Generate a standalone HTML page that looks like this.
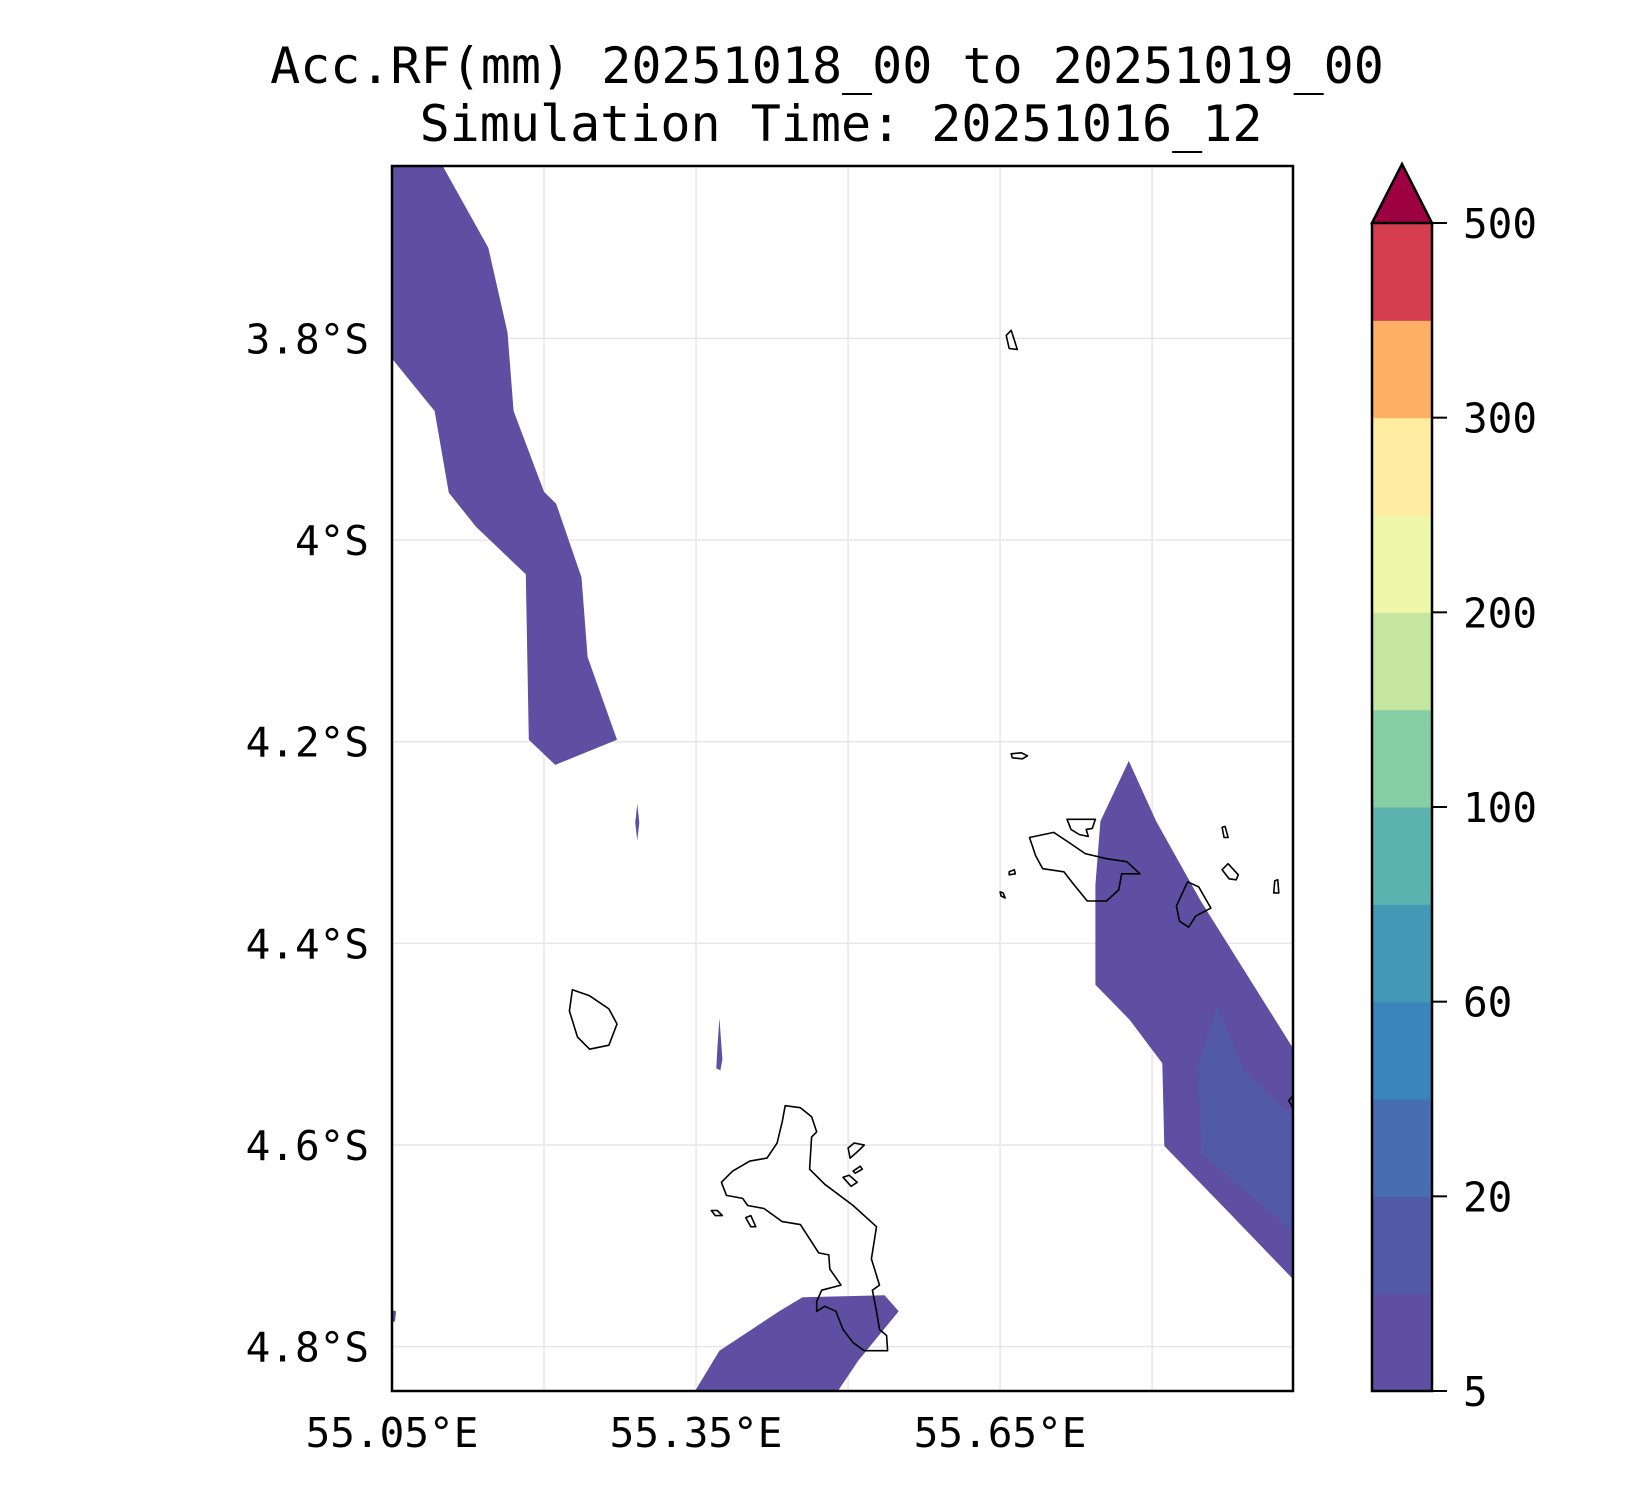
<!DOCTYPE html>
<html><head><meta charset="utf-8"><style>
body{margin:0;background:#fff}
svg text{font-family:"DejaVu Sans Mono","Liberation Mono",monospace;fill:#000}
</style></head><body>
<svg id="fig" width="1650" height="1500" viewBox="0 0 1650 1500" xmlns="http://www.w3.org/2000/svg">
<rect width="1650" height="1500" fill="#fff"/>
<text x="827" y="83" font-size="50" text-anchor="middle">Acc.RF(mm) 20251018_00 to 20251019_00</text>
<text x="841" y="141" font-size="50" text-anchor="middle">Simulation Time: 20251016_12</text>
<g id="grid"></g>
<g id="fills"></g>
<g id="coast"></g>
<rect x="392" y="166" width="901" height="1225" fill="none" stroke="#000" stroke-width="2.5"/>
<g id="ticks"></g>
<g id="cbar"></g>
</svg>
<script>
const lonMin=55.05, lonMax=55.939, latTop=3.629, latBot=4.844;
const lonTicks=[55.05,55.35,55.65];
const lonTickLabels=["55.05°E","55.35°E","55.65°E"];
const lonGrid=[55.05,55.2,55.35,55.5,55.65,55.8];
const latTicks=[3.8,4.0,4.2,4.4,4.6,4.8];
const latTickLabels=["3.8°S","4°S","4.2°S","4.4°S","4.6°S","4.8°S"];
const levels=[5,10,20,40,60,80,100,150,200,250,300,400,500];
const levelColors=["#5e4fa2","#5259a6","#466eb0","#3a85bc","#4299b6","#5cb2ae","#86cfa4","#c4e69e","#eef6aa","#feeca0","#fdb064","#d53e4f"];
const extendColor="#9e0142";
const cbarTickValues=[5,20,60,100,200,300,500];
const bandNW=[[55.05,3.62],[55.100,3.62],[55.145,3.710],[55.164,3.794],[55.170,3.872],[55.200,3.952],[55.212,3.964],[55.237,4.037],[55.243,4.116],[55.272,4.198],[55.211,4.223],[55.185,4.198],[55.182,4.034],[55.133,3.987],[55.106,3.953],[55.092,3.872],[55.05,3.820]];
const bandE=[[55.777,4.219],[55.804,4.279],[55.848,4.358],[55.945,4.504],[55.945,4.733],[55.869,4.660],[55.812,4.601],[55.810,4.519],[55.778,4.476],[55.744,4.441],[55.744,4.342],[55.749,4.279]];
const bandEInner=[[55.864,4.462],[55.890,4.525],[55.945,4.572],[55.945,4.686],[55.848,4.608],[55.846,4.519]];
const bandS=[[55.349,4.85],[55.373,4.804],[55.432,4.765],[55.455,4.751],[55.536,4.749],[55.550,4.765],[55.510,4.814],[55.490,4.85]];
const sliver1=[[55.292,4.262],[55.294,4.280],[55.292,4.298],[55.290,4.280]];
const sliver2=[[55.373,4.474],[55.376,4.515],[55.374,4.526],[55.370,4.524],[55.371,4.505]];
const sliver3=[[55.05,4.764],[55.054,4.765],[55.053,4.775],[55.05,4.776]];
const rainPolys=[[bandNW,0],[bandE,0],[bandEInner,1],[bandS,0],[sliver1,0],[sliver2,0],[sliver3,0]];
const mahe=[[55.438,4.561],[55.453,4.563],[55.464,4.572],[55.469,4.587],[55.464,4.592],[55.462,4.624],[55.477,4.639],[55.505,4.660],[55.528,4.681],[55.523,4.713],[55.531,4.739],[55.524,4.744],[55.528,4.765],[55.531,4.783],[55.538,4.789],[55.539,4.804],[55.516,4.804],[55.505,4.796],[55.495,4.783],[55.488,4.765],[55.477,4.760],[55.469,4.765],[55.469,4.755],[55.474,4.744],[55.493,4.739],[55.482,4.723],[55.481,4.709],[55.471,4.707],[55.453,4.679],[55.435,4.676],[55.417,4.663],[55.401,4.660],[55.396,4.653],[55.380,4.650],[55.375,4.637],[55.386,4.626],[55.403,4.616],[55.420,4.613],[55.430,4.598],[55.435,4.577]];
const praslin=[[55.679,4.295],[55.703,4.290],[55.718,4.300],[55.734,4.311],[55.755,4.316],[55.775,4.319],[55.788,4.331],[55.770,4.331],[55.767,4.347],[55.755,4.358],[55.736,4.358],[55.723,4.342],[55.713,4.329],[55.692,4.326],[55.685,4.313]];
const ladigue=[[55.835,4.339],[55.846,4.344],[55.858,4.365],[55.843,4.373],[55.836,4.384],[55.827,4.378],[55.824,4.363]];
const silhouette=[[55.228,4.446],[55.245,4.452],[55.264,4.465],[55.272,4.480],[55.264,4.501],[55.245,4.505],[55.233,4.493],[55.225,4.467]];
const curieuse=[[55.716,4.277],[55.744,4.277],[55.741,4.286],[55.735,4.287],[55.737,4.294],[55.728,4.292],[55.720,4.287]];
const islet1=[[55.656,3.797],[55.661,3.792],[55.667,3.811],[55.659,3.810]];
const islet2=[[55.661,4.212],[55.671,4.211],[55.677,4.214],[55.672,4.217],[55.662,4.216]];
const islet3=[[55.500,4.603],[55.506,4.598],[55.516,4.600],[55.510,4.606],[55.502,4.613]];
const islet4=[[55.505,4.626],[55.512,4.621],[55.514,4.624],[55.507,4.628]];
const islet5=[[55.495,4.632],[55.501,4.630],[55.509,4.637],[55.503,4.641]];
const islet6=[[55.365,4.665],[55.371,4.665],[55.376,4.670],[55.369,4.670]];
const islet7=[[55.399,4.672],[55.404,4.670],[55.409,4.681],[55.404,4.681]];
const islet8=[[55.869,4.285],[55.872,4.284],[55.875,4.295],[55.871,4.295]];
const islet9=[[55.869,4.327],[55.875,4.321],[55.885,4.332],[55.883,4.337],[55.876,4.336]];
const islet10=[[55.921,4.338],[55.924,4.337],[55.925,4.350],[55.920,4.350]];
const islet11=[[55.659,4.329],[55.664,4.327],[55.665,4.331],[55.659,4.332]];
const islet12=[[55.650,4.349],[55.653,4.350],[55.655,4.355],[55.651,4.353]];
const islet13=[[55.945,4.551],[55.935,4.556],[55.938,4.562],[55.945,4.565]];
const coastPolys=[mahe,praslin,ladigue,silhouette,curieuse,islet1,islet2,islet3,islet4,islet5,islet6,islet7,islet8,islet9,islet10,islet11,islet12,islet13];

const X0=392,X1=1293,Y0=166,Y1=1391;
const NS="http://www.w3.org/2000/svg";
function xs(lon){return X0+(lon-lonMin)/(lonMax-lonMin)*(X1-X0);}
function ys(lat){return Y0+(lat-latTop)/(latBot-latTop)*(Y1-Y0);}
function mk(tag,attrs,parent){const e=document.createElementNS(NS,tag);for(const k in attrs)e.setAttribute(k,attrs[k]);parent.appendChild(e);return e;}
function pts(poly){return poly.map(p=>xs(Math.min(Math.max(p[0],lonMin),lonMax)).toFixed(1)+","+ys(Math.min(Math.max(p[1],latTop),latBot)).toFixed(1)).join(" ");}

const grid=document.getElementById('grid');
lonGrid.forEach(v=>{const l=mk('line',{x1:xs(v),x2:xs(v),y1:Y0,y2:Y1,stroke:"#e6e6e6","stroke-width":1.5},grid);

});
latTicks.forEach(v=>{const l=mk('line',{x1:X0,x2:X1,y1:ys(v),y2:ys(v),stroke:"#e6e6e6","stroke-width":1.5},grid);

});

const fills=document.getElementById('fills');
rainPolys.forEach(r=>{const p=mk('polygon',{points:pts(r[0]),fill:levelColors[r[1]]},fills);

});

const coast=document.getElementById('coast');
coastPolys.forEach(c=>{const p=mk('polygon',{points:pts(c),fill:"none",stroke:"#000","stroke-width":1.6,"stroke-linejoin":"round"},coast);

});

const ticks=document.getElementById('ticks');
lonTicks.forEach((v,i)=>{const t=mk('text',{x:xs(v),y:1447,"font-size":41,"text-anchor":"middle"},ticks);t.textContent=lonTickLabels[i];

});
latTicks.forEach((v,i)=>{const t=mk('text',{x:369,y:ys(v)+15,"font-size":41,"text-anchor":"end"},ticks);t.textContent=latTickLabels[i];

});

const cb=document.getElementById('cbar');
const CX0=1372,CX1=1432,CT=223,CB=1391,n=levels.length-1,seg=(CB-CT)/n;
function cy(v){const i=levels.indexOf(v);return CB-i*seg;}
levelColors.forEach((c,i)=>{const r=mk('rect',{x:CX0,y:CB-(i+1)*seg,width:CX1-CX0,height:seg+0.5,fill:c},cb);

});
const tri=mk('polygon',{points:`${CX0},${CT} ${(CX0+CX1)/2},164 ${CX1},${CT}`,fill:extendColor,stroke:"#000","stroke-width":2.5,"stroke-linejoin":"miter"},cb);


const fr=mk('polyline',{points:`${CX0},${CT} ${CX0},${CB} ${CX1},${CB} ${CX1},${CT}`,fill:"none",stroke:"#000","stroke-width":2.5},cb);


cbarTickValues.forEach(v=>{const y=cy(v);
const l=mk('line',{x1:CX1,x2:CX1+15,y1:y,y2:y,stroke:"#000","stroke-width":2},cb);


const t=mk('text',{x:1463,y:y+15,"font-size":41},cb);t.textContent=String(v);

});
</script>
</body></html>
